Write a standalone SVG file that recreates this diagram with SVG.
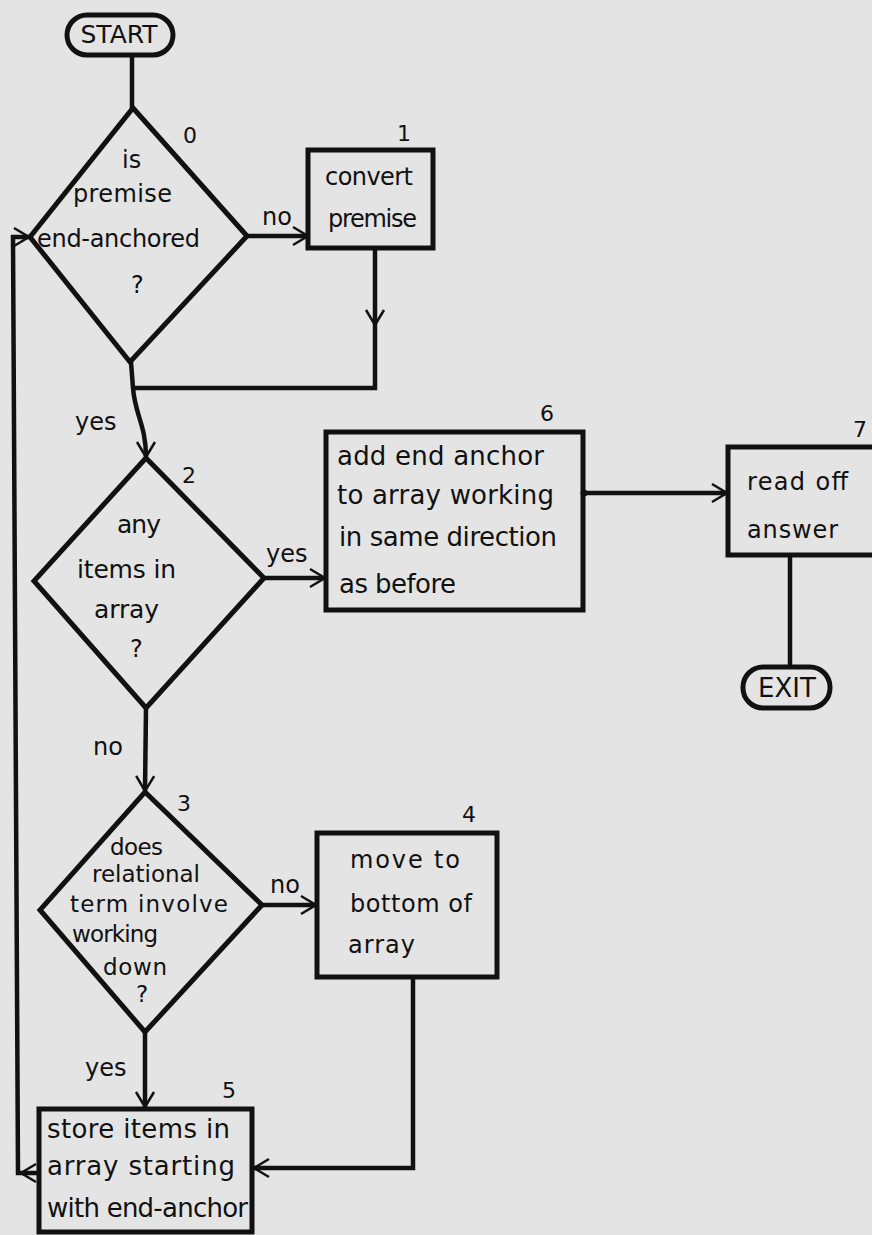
<svg xmlns="http://www.w3.org/2000/svg" width="872" height="1235" viewBox="0 0 872 1235">
<defs>
<style>
.bg{fill:#e4e4e4}
.shape{fill:none;stroke:#111;stroke-width:5;stroke-linejoin:miter}
.conn{fill:none;stroke:#111;stroke-width:4.5}
.t{font-family:"DejaVu Sans","Liberation Sans",sans-serif;font-size:24px;fill:#111}
.t25{font-family:"DejaVu Sans","Liberation Sans",sans-serif;font-size:25px;fill:#111}
.t26{font-family:"DejaVu Sans","Liberation Sans",sans-serif;font-size:26px;fill:#111}
.t3{font-family:"DejaVu Sans","Liberation Sans",sans-serif;font-size:23px;fill:#111}
.num{font-family:"DejaVu Sans","Liberation Sans",sans-serif;font-size:22px;fill:#111}
.term{font-family:"DejaVu Sans","Liberation Sans",sans-serif;font-size:24px;fill:#111;text-anchor:middle}
</style>
<marker id="arr" markerUnits="userSpaceOnUse" markerWidth="22" markerHeight="22" refX="15" refY="9" orient="auto" viewBox="-2 -2 20 22">
<path d="M0,0 L15,9 L0,18" fill="none" stroke="#111" stroke-width="2.5"/>
</marker>
</defs>
<rect class="bg" x="0" y="0" width="872" height="1235"/>

<g id="connectors">
<path class="conn" d="M132,55 L132,108"/>
<path class="conn" d="M247,236 L308,236" marker-end="url(#arr)"/>
<path class="conn" d="M375,248 L375,325" marker-end="url(#arr)"/>
<path class="conn" d="M375,325 L375,388 L133,388"/>
<path class="conn" d="M131,362 L133,388 C135,415 146,425 146,457" marker-end="url(#arr)"/>
<path class="conn" d="M264,578 L325,578" marker-end="url(#arr)"/>
<path class="conn" d="M583,493 L727,493" marker-end="url(#arr)"/>
<circle cx="584" cy="493" r="3.5" fill="#111"/>
<path class="conn" d="M790,555 L790,667"/>
<path class="conn" d="M146,708 L145,791" marker-end="url(#arr)"/>
<path class="conn" d="M262,905 L316,905" marker-end="url(#arr)"/>
<path class="conn" d="M145,1032 L145,1107" marker-end="url(#arr)"/>
<path class="conn" d="M413,977 L413,1168 L254,1168" marker-end="url(#arr)"/>
<path class="conn" d="M38,1173 L21,1173" marker-end="url(#arr)"/>
<path class="conn" d="M21,1173 L18,1173 L13,237 L29,237" marker-end="url(#arr)"/>
</g>

<g id="start">
<rect class="shape" x="67" y="15" width="106" height="40" rx="20"/>
<text class="term" x="119" y="43" style="font-size:25px">START</text>
</g>

<g id="node0">
<polygon class="shape" points="133,108 247,236 130,362 30,237"/>
<text class="num" x="183" y="143">0</text>
<text class="t" x="122" y="168">is</text>
<text class="t" x="73" y="202" textLength="99">premise</text>
<text class="t" x="37" y="247" textLength="163">end-anchored</text>
<text class="t" x="131" y="293">?</text>
<text class="t" x="262" y="225">no</text>
</g>

<g id="node1">
<rect class="shape" x="308" y="150" width="125" height="98"/>
<text class="num" x="397" y="141">1</text>
<text class="t" x="325" y="185" textLength="88">convert</text>
<text class="t" x="328" y="227" textLength="89">premise</text>
</g>

<g id="node2">
<polygon class="shape" points="146,458 264,578 146,708 34,581"/>
<text class="num" x="182" y="483">2</text>
<text class="t" x="75" y="430">yes</text>
<text class="t25" x="117" y="533" textLength="44">any</text>
<text class="t25" x="77" y="578" textLength="99">items in</text>
<text class="t25" x="94" y="618" textLength="65">array</text>
<text class="t" x="130" y="657">?</text>
<text class="t" x="266" y="562">yes</text>
</g>

<g id="node6">
<rect class="shape" x="326" y="432" width="257" height="178"/>
<text class="num" x="540" y="421">6</text>
<text class="t26" x="337" y="465" textLength="207">add  end anchor</text>
<text class="t26" x="337" y="504" textLength="217">to array working</text>
<text class="t26" x="339" y="546" textLength="218">in same direction</text>
<text class="t26" x="339" y="593" textLength="117">as before</text>
</g>

<g id="node7">
<rect class="shape" x="728" y="447" width="160" height="108"/>
<text class="num" x="853" y="437">7</text>
<text class="t" x="747" y="490" textLength="101">read off</text>
<text class="t" x="747" y="538" textLength="91">answer</text>
</g>

<g id="exit">
<rect class="shape" x="743" y="667" width="87" height="41" rx="20"/>
<text class="term" x="787" y="697" style="font-size:26px">EXIT</text>
</g>

<g id="node3">
<polygon class="shape" points="145,792 262,905 145,1032 40,910"/>
<text class="t" x="93" y="755">no</text>
<text class="num" x="177" y="811">3</text>
<text class="t3" x="110" y="855" textLength="53">does</text>
<text class="t3" x="92" y="882" textLength="108">relational</text>
<text class="t3" x="70" y="912" textLength="158">term involve</text>
<text class="t3" x="72" y="942" textLength="86">working</text>
<text class="t3" x="103" y="975" textLength="64">down</text>
<text class="t3" x="136" y="1002">?</text>
<text class="t" x="270" y="893">no</text>
</g>

<g id="node4">
<rect class="shape" x="317" y="833" width="180" height="144"/>
<text class="num" x="462" y="822">4</text>
<text class="t" x="350" y="868" textLength="110">move  to</text>
<text class="t" x="350" y="912" textLength="122">bottom of</text>
<text class="t" x="348" y="953" textLength="67">array</text>
</g>

<g id="node5">
<rect class="shape" x="39" y="1109" width="213" height="123"/>
<text class="t" x="85" y="1076">yes</text>
<text class="num" x="222" y="1098">5</text>
<text class="t26" x="47" y="1138" textLength="183">store items in</text>
<text class="t26" x="47" y="1175" textLength="188">array starting</text>
<text class="t26" x="47" y="1217" textLength="201">with end-anchor</text>
</g>
</svg>
